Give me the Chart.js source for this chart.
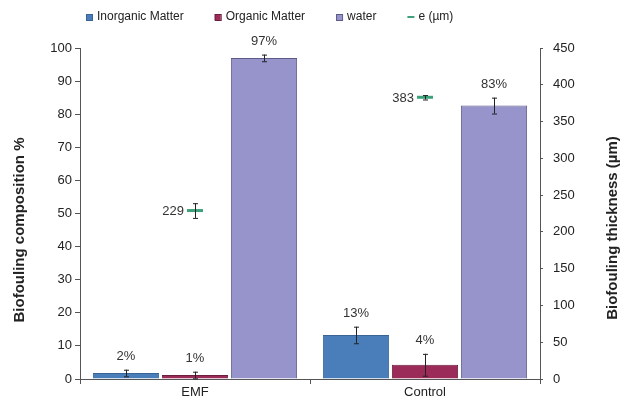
<!DOCTYPE html>
<html>
<head>
<meta charset="utf-8">
<script src="https://cdn.jsdelivr.net/npm/chart.js@4.4.1/dist/chart.umd.min.js"></script>
<style>
  html, body { margin: 0; padding: 0; background: #ffffff; }
  #wrap { width: 628px; height: 400px; position: relative; }
</style>
</head>
<body>
<div id="wrap"><canvas id="c"></canvas></div>
<script>
// ---- data ----
const categories = ['EMF', 'Control'];
const inorganic = [1.8, 13.3];
const inorganicErr = [1.0, 2.5];
const organic = [1.2, 4.3];
const organicErr = [1.0, 3.3];
const water = [97.0, 82.6];
const waterErr = [1.0, 2.4];
const thickness = [229, 383];
const thicknessErr = [10, 3];
const seriesNames = ['Inorganic Matter', 'Organic Matter', 'water', 'e (\u00b5m)'];
const leftTitle = 'Biofouling composition %';
const rightTitle = 'Biofouling thickness (\u00b5m)';

const FONT = "'Liberation Sans', Arial, Helvetica, sans-serif";
const TXT = '#222222';

const errPlugin = {
  id: 'errAndLabels',
  afterDatasetsDraw(chart) {
    const ctx = chart.ctx;
    ctx.save();
    chart.data.datasets.forEach((ds, i) => {
      const meta = chart.getDatasetMeta(i);
      const ys = chart.scales[ds.yAxisID];
      meta.data.forEach((el, j) => {
        const v = ds.data[j];
        const e = ds.errors[j];
        const x = el.x;
        const yt = ys.getPixelForValue(v + e);
        const yb = ys.getPixelForValue(v - e);
        ctx.strokeStyle = '#222';
        ctx.lineWidth = 1;
        ctx.beginPath();
        ctx.moveTo(x + 0.5, yt); ctx.lineTo(x + 0.5, yb);
        ctx.moveTo(x - 2, yt + 0.5); ctx.lineTo(x + 3, yt + 0.5);
        ctx.moveTo(x - 2, yb + 0.5); ctx.lineTo(x + 3, yb + 0.5);
        ctx.stroke();
        ctx.fillStyle = '#333';
        ctx.font = '13px ' + FONT;
        if (ds.type === 'line') {
          ctx.textAlign = 'right';
          ctx.textBaseline = 'middle';
          ctx.fillText(String(v), x - 11, el.y + 1);
        } else {
          ctx.textAlign = 'center';
          ctx.textBaseline = 'bottom';
          ctx.fillText(Math.round(v) + '%', x, yt - 7);
        }
      });
    });
    ctx.restore();
  },
  afterDraw(chart) {
    const ctx = chart.ctx;
    ctx.save();
    // axis titles
    ctx.fillStyle = TXT;
    ctx.font = 'bold 15px ' + FONT;
    ctx.textAlign = 'center';
    ctx.textBaseline = 'middle';
    ctx.translate(20, 230);
    ctx.rotate(-Math.PI / 2);
    ctx.fillText(leftTitle, 0, 0);
    ctx.restore();
    ctx.save();
    ctx.fillStyle = TXT;
    ctx.font = 'bold 15px ' + FONT;
    ctx.textAlign = 'center';
    ctx.textBaseline = 'middle';
    ctx.translate(613, 228);
    ctx.rotate(-Math.PI / 2);
    ctx.fillText(rightTitle, 0, 0);
    ctx.restore();
    // legend
    ctx.save();
    ctx.font = '12px ' + FONT;
    ctx.textBaseline = 'middle';
    ctx.textAlign = 'left';
    let x = 86;
    const y = 17;
    chart.data.datasets.forEach((ds) => {
      if (ds.type === 'line') {
        ctx.strokeStyle = ds.borderColor;
        ctx.lineWidth = 2;
        ctx.beginPath();
        ctx.moveTo(x, y); ctx.lineTo(x + 7, y);
        ctx.stroke();
      } else {
        ctx.fillStyle = ds.backgroundColor;
        ctx.fillRect(x, y - 3, 6, 6);
        ctx.strokeStyle = ds.borderColor;
        ctx.lineWidth = 1;
        ctx.strokeRect(x + 0.5, y - 2.5, 6, 6);
      }
      ctx.fillStyle = TXT;
      ctx.fillText(ds.label, x + 11, y);
      x += 11 + ctx.measureText(ds.label).width + 31;
    });
    ctx.restore();
  }
};

const tickFont = { family: FONT, size: 13 };
const axisColor = '#555555';

new Chart(document.getElementById('c'), {
  type: 'bar',
  data: {
    labels: categories,
    datasets: [
      { label: seriesNames[0], data: inorganic, errors: inorganicErr, yAxisID: 'y',
        backgroundColor: '#4A7EBB', borderColor: '#3A6396', borderWidth: 1 },
      { label: seriesNames[1], data: organic, errors: organicErr, yAxisID: 'y',
        backgroundColor: '#9B2B59', borderColor: '#6E1F40', borderWidth: 1 },
      { label: seriesNames[2], data: water, errors: waterErr, yAxisID: 'y',
        backgroundColor: '#9794CB', borderColor: '#5E5A88', borderWidth: 1 },
      { type: 'line', label: seriesNames[3], data: thickness, errors: thicknessErr, yAxisID: 'y1',
        showLine: false, pointStyle: 'line', pointRadius: 8, pointHoverRadius: 8,
        pointBorderWidth: 3, borderColor: '#3DA27A', backgroundColor: '#3DA27A', order: -1 }
    ]
  },
  options: {
    responsive: true,
    maintainAspectRatio: false,
    animation: false,
    categoryPercentage: 0.9,
    barPercentage: 0.96,
    layout: { padding: { top: 48, left: 0, right: 0, bottom: 0 } },
    plugins: { legend: { display: false }, tooltip: { enabled: false } },
    scales: {
      x: {
        offset: true,
        grid: { display: true, drawOnChartArea: false, drawTicks: true, tickLength: 5, color: axisColor, offset: true },
        border: { display: true, color: axisColor },
        ticks: { color: TXT, font: tickFont, padding: 1 },
        afterFit(s) { s.height = 21; }
      },
      y: {
        position: 'left', min: 0, max: 100,
        grid: { display: true, drawOnChartArea: false, drawTicks: true, tickLength: 5, color: axisColor },
        border: { display: true, color: axisColor },
        ticks: { stepSize: 10, color: TXT, font: tickFont, padding: 3 },
        afterFit(s) { s.width = 80; }
      },
      y1: {
        position: 'right', min: 0, max: 450,
        grid: { display: true, drawOnChartArea: false, drawTicks: true, tickLength: 3, color: axisColor },
        border: { display: true, color: axisColor },
        ticks: { stepSize: 50, color: TXT, font: tickFont, padding: 10 },
        afterFit(s) { s.width = 88; }
      }
    }
  },
  plugins: [errPlugin]
});
</script>
</body>
</html>
